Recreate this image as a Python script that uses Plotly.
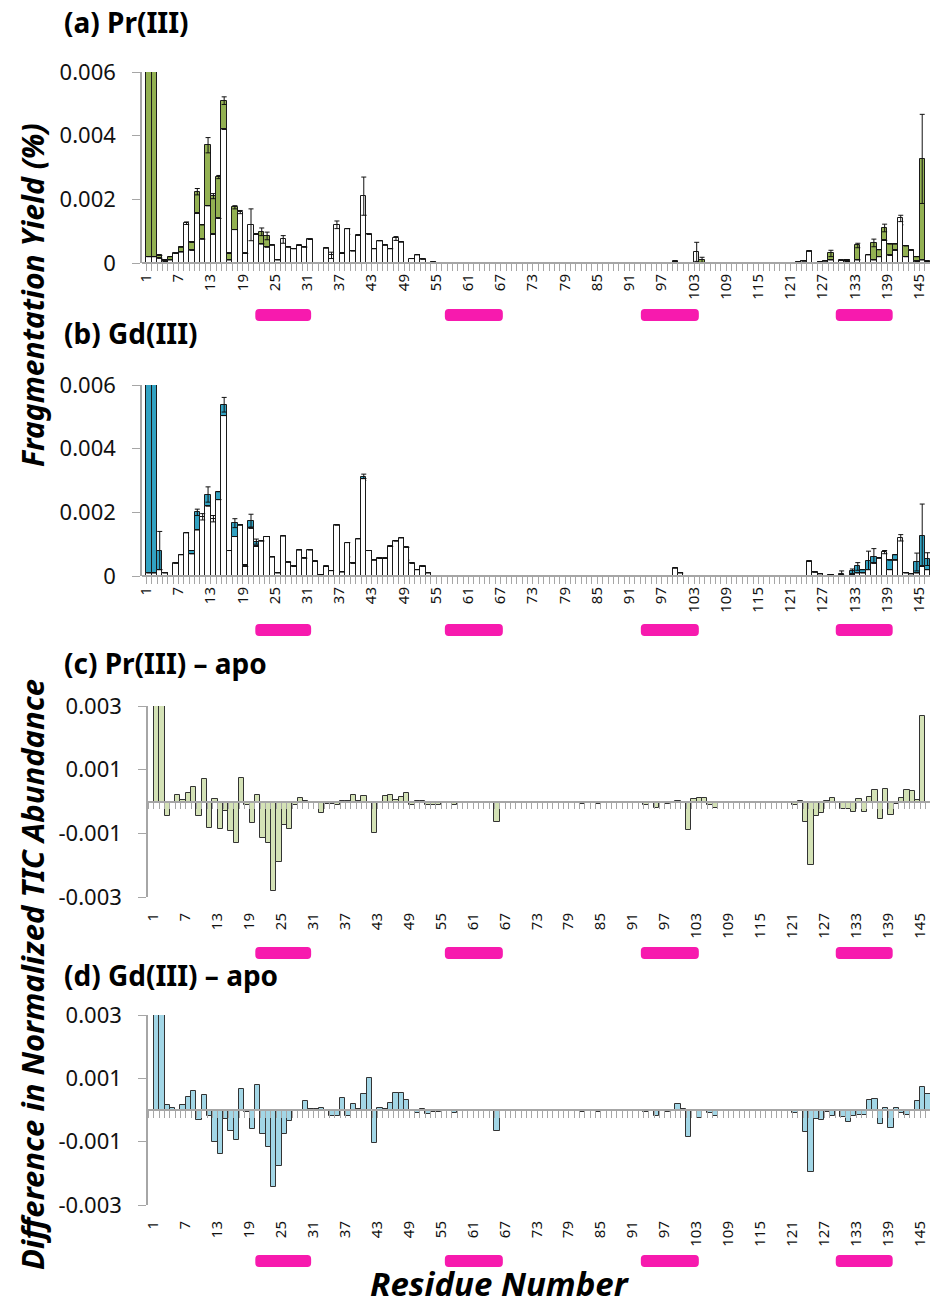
import plotly.graph_objects as go

W, H = 930, 1310

residues = list(range(1, 148))
tick_residues = list(range(1, 146, 6))
tick_labels = [str(r) for r in tick_residues]

# ---------------- panel (a): apo vs Pr(III) fragmentation yield ----------------
apo_a = [
    0.0002, 0.0002, 0.00015, 0.00005, 0.0001, 0.0003, 0.00035, 0.00125, 0.0004, 0.00156,
    0.00075, 0.0018, 0.0009, 0.0014, 0.0042, 0.0001, 0.00105, 0.0016, 0.0003, 0.0012,
    0.0009, 0.0006, 0.0005, 0.00056, 0.0001, 0.00074, 0.0005, 0.00045, 0.00055, 0.0005,
    0.00074, 0, 0, 0.00047, 0.00024, 0.0012, 0.0003, 0.00108, 0.00038, 0.00087,
    0.0021, 0.0009, 0.00045, 0.0007, 0.00056, 0.00045, 0.00077, 0.00066, 0, 0.00014,
    0.00026, 0.00012, 0, 0.00002, 0, 0, 0, 0, 0, 0,
    0, 0, 0, 0, 0, 0, 0, 0, 0, 0,
    0, 0, 0, 0, 0, 0, 0, 0, 0, 0,
    0, 0, 0, 0, 0, 0, 0, 0, 0, 0,
    0, 0, 0, 0, 0, 0, 0, 0, 0.00005, 0,
    0, 0, 0.00035, 0, 0, 0, 0, 0, 0, 0,
    0, 0, 0, 0, 0, 0, 0, 0, 0, 0,
    0, 0.00002, 0.00006, 0.00037, 0, 0.00004, 0.00006, 0.0001, 0, 0.00008,
    0.00005, 0, 0.0001, 0, 0.00026, 0.0001, 0.0002, 0.00071, 0.00024, 0.0004,
    0.0014, 0.0002, 0.0004, 0.00005, 0.0001, 0.00003, 0,
]
pr_a = [
    0.009, 0.009, 0.00024, 0.0001, 0.0002, 0.00025, 0.0005, 0.0012, 0.00065, 0.00224,
    0.0012, 0.0037, 0.0021, 0.0027, 0.0051, 0.0003, 0.00175, 0.0015, 0.0001, 0.0004,
    0.0006, 0.00098, 0.00085, 0.0004, 0.00005, 0.0003, 0.0002, 0.0003, 0.0004, 0.0003,
    0.0006, 0, 0, 0.0003, 0.0001, 0.0009, 0.0003, 0.0009, 0.0003, 0.0007,
    0.0015, 0.0008, 0.0004, 0.0006, 0.0005, 0.0004, 0.0006, 0.0006, 0, 0.0001,
    0.0002, 0.0001, 0, 0.00002, 0, 0, 0, 0, 0, 0,
    0, 0, 0, 0, 0, 0, 0, 0, 0, 0,
    0, 0, 0, 0, 0, 0, 0, 0, 0, 0,
    0, 0, 0, 0, 0, 0, 0, 0, 0, 0,
    0, 0, 0, 0, 0, 0, 0, 0, 0, 0,
    0, 0, 0.0001, 0.0001, 0, 0, 0, 0, 0, 0,
    0, 0, 0, 0, 0, 0, 0, 0, 0, 0,
    0, 0.00002, 0.00006, 0.0003, 0, 0.00004, 0.00006, 0.0003, 0, 0.00005,
    0.0001, 0, 0.00055, 0, 0.0002, 0.00063, 0.00042, 0.0011, 0.0006, 0.0006,
    0.0012, 0.00054, 0.0003, 0.0002, 0.00327, 0.00005, 0,
]
err_pr_a = {10: 0.0001, 12: 0.00024, 13: 0.00008, 14: 0.00005, 15: 0.00012, 17: 0.00005,
            22: 0.00012, 23: 0.00012, 104: 0.00008, 124: 0.00005, 128: 0.0001, 133: 0.00007,
            136: 0.00012, 138: 0.00012, 145: 0.0014}
err_apo_a = {8: 0.00004, 18: 0.00005, 20: 0.0005, 26: 0.00012, 35: 0.0001, 36: 0.00012,
             41: 0.0006, 47: 0.00006, 103: 0.0003, 141: 0.0001}

# ---------------- panel (b): apo vs Gd(III) fragmentation yield ----------------
apo_b = [
    0.0001, 0.0001, 0.0002, 0.0001, 0, 0.0004, 0.00067, 0.00136, 0.0007, 0.00145,
    0.00186, 0.0022, 0.0018, 0.0024, 0.00504, 0.0008, 0.00124, 0.0016, 0.0003, 0.0015,
    0.00093, 0.0011, 0.00124, 0.0006, 0.0001, 0.00126, 0.00043, 0.0003, 0.00082, 0.00056,
    0.00082, 0.00046, 0.00004, 0.0003, 0.00017, 0.0016, 0.00013, 0.00105, 0.0004, 0.00117,
    0.00306, 0.0008, 0.0005, 0.00055, 0.00055, 0.00093, 0.0011, 0.0012, 0.0009, 0.0004,
    0.0002, 0.0003, 0.0001, 0, 0, 0, 0, 0, 0, 0,
    0, 0, 0, 0, 0, 0, 0, 0, 0, 0,
    0, 0, 0, 0, 0, 0, 0, 0, 0, 0,
    0, 0, 0, 0, 0, 0, 0, 0, 0, 0,
    0, 0, 0, 0, 0, 0, 0, 0, 0.00025, 0.0001,
    0, 0, 0, 0, 0, 0, 0, 0, 0, 0,
    0, 0, 0, 0, 0, 0, 0, 0, 0, 0,
    0, 0, 0, 0.00046, 0.00012, 0.00007, 0, 0.00004, 0, 0.00003,
    0, 0.00005, 0.0001, 0.0001, 0.0002, 0.0004, 0.00056, 0.00075, 0.0002, 0.0005,
    0.0012, 0.0001, 0.00007, 0.0001, 0.0003, 0.0002, 0,
]
gd_b = [
    0.009, 0.009, 0.0008, 0.00011, 0, 0.0003, 0.0006, 0.0012, 0.0008, 0.002,
    0.0017, 0.00256, 0.00155, 0.00265, 0.00538, 0.0006, 0.00166, 0.0016, 0.00035, 0.00174,
    0.00108, 0.001, 0.00124, 0.0005, 0.00005, 0.0008, 0.0002, 0.0002, 0.0005, 0.0003,
    0.0005, 0.0003, 0, 0.0002, 0.0001, 0.0009, 0.0001, 0.0006, 0.0002, 0.0007,
    0.0031, 0.0005, 0.0003, 0.0003, 0.0003, 0.0005, 0.0006, 0.0007, 0.0005, 0.0002,
    0.0001, 0.0002, 0.00005, 0, 0, 0, 0, 0, 0, 0,
    0, 0, 0, 0, 0, 0, 0, 0, 0, 0,
    0, 0, 0, 0, 0, 0, 0, 0, 0, 0,
    0, 0, 0, 0, 0, 0, 0, 0, 0, 0,
    0, 0, 0, 0, 0, 0, 0, 0, 0.0001, 0.00007,
    0, 0, 0, 0, 0, 0, 0, 0, 0, 0,
    0, 0, 0, 0, 0, 0, 0, 0, 0, 0,
    0, 0, 0, 0.0002, 0.00005, 0.00005, 0, 0.00004, 0, 0.00007,
    0, 0.00015, 0.0003, 0.0002, 0.00046, 0.0006, 0.0003, 0.0007, 0.0005, 0.00067,
    0.0011, 0.0001, 0.00007, 0.00044, 0.00126, 0.00053, 0,
]
err_gd_b = {3: 0.0006, 10: 0.0001, 12: 0.00024, 15: 0.00023, 17: 0.00014, 20: 0.0002,
            21: 0.00008, 41: 0.0001, 130: 0.00009, 132: 0.00007, 133: 0.00012, 135: 0.00032,
            136: 0.00026, 144: 0.00028, 145: 0.001, 146: 0.0002}
err_apo_b = {11: 0.0001, 13: 0.0001, 138: 0.00005, 141: 0.0001}

# ---------------- panel (c): Pr(III) - apo ----------------
diff_c = [
    0.005, 0.005, -0.00044, -0.00006, 0.0002, 0.00006, 0.00026, 0.00046, -0.00044, 0.0007,
    -0.00082, 0.00008, -0.00085, -0.0003, -0.00092, -0.0013, 0.00073, -0.0001, -0.00067, 0.0002,
    -0.00114, -0.0013, -0.00282, -0.0019, -0.00075, -0.00085, -0.0001, 0.0001, 0.00003, -0.00004,
    -0.00006, -0.00037, -0.00007, -0.00007, -0.00012, 0.00003, 0.00003, 0.00019, 0.00003, 0.00017,
    -0.00004, -0.001, -0.00004, 0.00017, 0.0002, 0.00004, 0.00015, 0.00026, -0.0001, 0.00003,
    0.00003, -0.0001, -0.0001, -0.0001, -0.00002, -0.00002, -0.0001, 0, 0, 0,
    0, 0, 0, 0, -0.00065, 0, 0, 0, 0, 0,
    0, 0, 0, 0, 0, 0, 0, 0, 0, 0,
    -0.00007, 0, 0, -0.00007, 0, 0, 0, 0, 0, 0,
    0, 0, -0.0001, -0.00002, -0.0002, 0, -0.00007, 0, 0.00003, 0,
    -0.00088, 0.00008, 0.0001, 0.00011, -0.0001, -0.0002, 0, 0, -0.00004, 0,
    0, 0, 0, 0, 0, 0, 0, 0, 0, -0.00004,
    -0.0001, 0.00003, -0.00065, -0.002, -0.00044, -0.00035, 0.00003, 0.00011, 0, -0.00025,
    -0.00025, -0.00033, 0.00008, -0.00033, 0.00015, 0.00037, -0.00056, 0.0004, -0.00042, -0.00007,
    0.00011, 0.00035, 0.00032, 0.00006, 0.0027, -0.00001, 0,
]

# ---------------- panel (d): Gd(III) - apo ----------------
diff_d = [
    0.005, 0.005, 0.00017, 0.00005, -0.00003, 0.00017, 0.0004, 0.0006, -0.0003, 0.00046,
    -0.0002, -0.001, -0.00138, -0.00028, -0.00065, -0.00095, 0.00067, -0.00007, -0.0006, 0.00078,
    -0.00076, -0.00117, -0.00244, -0.00177, -0.00076, -0.00036, -0.00003, -0.00003, 0.0003, 0.00003,
    0.00003, 0.00007, -0.00002, -0.0002, -0.00018, 0.00038, -0.00018, 0.0002, 0.00003, 0.0005,
    0.001, -0.00105, 0.00006, 0.00003, 0.00023, 0.00054, 0.00054, 0.00032, -0.00003, -0.0001,
    0.00004, -0.00012, -0.00007, -0.00007, -0.00003, -0.00003, -0.0001, 0, 0, 0,
    0, 0, 0, 0, -0.00065, 0, 0, 0, 0, 0,
    0, 0, 0, 0, 0, 0, 0, 0, 0, 0,
    -0.00007, 0, 0, -0.00007, 0, 0, 0, 0, 0, 0,
    0, 0, -0.00007, -0.00003, -0.00018, 0, -0.00007, 0, 0.0002, 0.00004,
    -0.00084, 0, -0.00026, 0, -0.0001, -0.00018, 0, 0, -0.00003, 0,
    0, 0, 0, 0, 0, 0, 0, 0, 0, -0.00003,
    -0.0001, -0.00003, -0.0007, -0.00195, -0.00028, -0.00033, -0.00007, -0.00018, 0, -0.00023,
    -0.00039, -0.0002, -0.00015, -0.00015, 0.00032, 0.00035, -0.00045, 0.00007, -0.00056, 0.00006,
    -0.0001, -0.00015, -0.00003, 0.0003, 0.00073, 0.00052, 0,
]

# Ca-binding loop markers (residue spans)
loops = [(20.8, 31.2), (56.1, 66.9), (92.6, 103.4), (128.9, 139.5)]

# ---------------- styling ----------------
GREEN = '#93B152'
BLUE = '#32A2C2'
LGREEN = '#D4E2B6'
LBLUE = '#A2D6E6'
MAGENTA = '#F71AAE'
AXC = '#A6A6A6'
FONT = 'Noto Sans'


def py(p):
    return 1 - p / H


def nz(vals):
    return [v if v != 0 else None for v in vals]


def errs(vals, d):
    return [d.get(r, 0) if v != 0 else None for r, v in zip(residues, vals)]


fig = go.Figure()

bar_line = dict(color='#1a1a1a', width=1)


def add_pair(colored, colored_err, apo, apo_err, color, xa, ya):
    fig.add_trace(go.Bar(x=residues, y=nz(colored), width=1.0, xaxis=xa, yaxis=ya,
                         marker=dict(color=color, line=bar_line),
                         error_y=dict(type='data', array=errs(colored, colored_err), visible=True,
                                      color='#111', thickness=1, width=2.5),
                         showlegend=False, hoverinfo='skip'))
    fig.add_trace(go.Bar(x=residues, y=nz(apo), width=1.0, xaxis=xa, yaxis=ya,
                         marker=dict(color='white', line=bar_line),
                         error_y=dict(type='data', array=errs(apo, apo_err), visible=True,
                                      color='#111', thickness=1, width=2.5),
                         showlegend=False, hoverinfo='skip'))


add_pair(pr_a, err_pr_a, apo_a, err_apo_a, GREEN, 'x', 'y')
add_pair(gd_b, err_gd_b, apo_b, err_apo_b, BLUE, 'x2', 'y2')

fig.add_trace(go.Bar(x=residues, y=nz(diff_c), width=1.0, xaxis='x3', yaxis='y3',
                     marker=dict(color=LGREEN, line=dict(color='#333', width=1)),
                     showlegend=False, hoverinfo='skip'))
fig.add_trace(go.Bar(x=residues, y=nz(diff_d), width=1.0, xaxis='x4', yaxis='y4',
                     marker=dict(color=LBLUE, line=dict(color='#333', width=1)),
                     showlegend=False, hoverinfo='skip'))

# dummy traces to activate the tick-mark overlay axes
for xa, ya in [('x5', 'y'), ('x6', 'y2'), ('x7', 'y3'), ('x8', 'y4')]:
    fig.add_trace(go.Scatter(x=[None], y=[None], xaxis=xa, yaxis=ya, showlegend=False,
                             hoverinfo='skip'))

# geometry (pixels)
ydom = {
    'a': (263, 72), 'b': (576, 385), 'c': (897, 706), 'd': (1205, 1015),
}
xdom_ab = [142 / W, 1]
xrange_ab = [-0.3, 146.45]
xdom_cd = [148 / W, 1]
xrange_cd = [-0.6, 146.35]

tickfont_x = dict(family=FONT, size=15, color='#111')
tickfont_y = dict(family=FONT, size=22, color='#111')


def label_axis(dom, rng, anchor, tl):
    return dict(domain=dom, range=rng, anchor=anchor, tickmode='array', tickvals=tick_residues,
                ticktext=tick_labels, tickangle=-90, ticks='outside', ticklen=tl,
                tickcolor='rgba(0,0,0,0)', tickfont=tickfont_x, showline=False,
                showgrid=False, zeroline=False, fixedrange=True, automargin=False,
                ticklabeloverflow='allow', ticklabelshift=-3)


def tick_axis(dom, rng, over, pos):
    return dict(domain=dom, range=rng, overlaying=over, anchor='free', position=pos,
                tickmode='linear', tick0=0.5, dtick=1, ticks='outside', ticklen=7,
                tickcolor=AXC, tickwidth=1, showticklabels=False, showline=True,
                linecolor=AXC, linewidth=1.5, showgrid=False, zeroline=False, side='bottom',
                automargin=False)


def yaxis(key, rng, vals, texts):
    b, t = ydom[key]
    return dict(domain=[py(b), py(t)], range=rng, tickmode='array', tickvals=vals,
                ticktext=texts, ticks='outside', ticklen=8, tickcolor=AXC, tickwidth=1,
                showline=True, linecolor=AXC, linewidth=1.5, showgrid=False, zeroline=False,
                tickfont=tickfont_y, ticklabelstandoff=12, fixedrange=True, automargin=False)


yv_ab = [0, 0.002, 0.004, 0.006]
yt_ab = ['0', '0.002', '0.004', '0.006']
yv_cd = [-0.003, -0.001, 0.001, 0.003]
yt_cd = ['-0.003', '-0.001', '0.001', '0.003']

zero_c = (py(ydom['c'][0]) + py(ydom['c'][1])) / 2
zero_d = (py(ydom['d'][0]) + py(ydom['d'][1])) / 2

fig.update_layout(
    width=W, height=H, margin=dict(l=0, r=0, t=0, b=0, pad=0, autoexpand=False),
    autosize=False,
    paper_bgcolor='white', plot_bgcolor='rgba(0,0,0,0)',
    barmode='overlay', bargap=0, showlegend=False,
    xaxis=label_axis(xdom_ab, xrange_ab, 'y', 4),
    xaxis2=label_axis(xdom_ab, xrange_ab, 'y2', 4),
    xaxis3=label_axis(xdom_cd, xrange_cd, 'y3', 9),
    xaxis4=label_axis(xdom_cd, xrange_cd, 'y4', 9),
    xaxis5=tick_axis(xdom_ab, xrange_ab, 'x', py(ydom['a'][0])),
    xaxis6=tick_axis(xdom_ab, xrange_ab, 'x2', py(ydom['b'][0])),
    xaxis7=tick_axis(xdom_cd, xrange_cd, 'x3', zero_c),
    xaxis8=tick_axis(xdom_cd, xrange_cd, 'x4', zero_d),
    yaxis=yaxis('a', [0, 0.006], yv_ab, yt_ab),
    yaxis2=yaxis('b', [0, 0.006], yv_ab, yt_ab),
    yaxis3=yaxis('c', [-0.003, 0.003], yv_cd, yt_cd),
    yaxis4=yaxis('d', [-0.003, 0.003], yv_cd, yt_cd),
)
for k in ['yaxis', 'yaxis2', 'yaxis3', 'yaxis4']:
    fig.layout[k].anchor = {'yaxis': 'x', 'yaxis2': 'x2', 'yaxis3': 'x3', 'yaxis4': 'x4'}[k]

# loop markers
shapes = []
for yc in [315, 630, 953, 1261]:
    y0, y1 = py(yc + 6), py(yc - 6)
    ry = 4 / H
    for a, b in loops:
        rx = 0.7
        path = (f'M {a + rx},{y0} L {b - rx},{y0} Q {b},{y0} {b},{y0 + ry} '
                f'L {b},{y1 - ry} Q {b},{y1} {b - rx},{y1} L {a + rx},{y1} '
                f'Q {a},{y1} {a},{y1 - ry} L {a},{y0 + ry} Q {a},{y0} {a + rx},{y0} Z')
        shapes.append(dict(type='path', path=path, xref='x', yref='paper',
                           fillcolor=MAGENTA, line=dict(width=0), layer='above'))
fig.update_layout(shapes=shapes)

# annotations
ann = []
for txt, yc in [('(a) Pr(III)', 22), ('(b) Gd(III)', 333), ('(c) Pr(III) – apo', 663),
                ('(d) Gd(III) – apo', 975)]:
    ann.append(dict(text=f'<b>{txt}</b>', x=62 / W, y=py(yc), xref='paper', yref='paper',
                    xanchor='left', yanchor='middle', showarrow=False,
                    font=dict(family=FONT, size=28, color='black')))
ann.append(dict(text='<b><i>Fragmentation Yield (%)</i></b>', x=32 / W, y=py(295),
                xref='paper', yref='paper', textangle=-90, showarrow=False,
                xanchor='center', yanchor='middle',
                font=dict(family=FONT, size=30, color='black')))
ann.append(dict(text='<b><i>Difference in Normalized TIC Abundance</i></b>', x=32 / W,
                y=py(975), xref='paper', yref='paper', textangle=-90, showarrow=False,
                xanchor='center', yanchor='middle',
                font=dict(family=FONT, size=31, color='black')))
ann.append(dict(text='<b><i>Residue Number</i></b>', x=500 / W, y=py(1308), xref='paper',
                yref='paper', showarrow=False, xanchor='center', yanchor='bottom',
                font=dict(family=FONT, size=33, color='black')))
fig.update_layout(annotations=ann)

fig.write_html('out.html')
